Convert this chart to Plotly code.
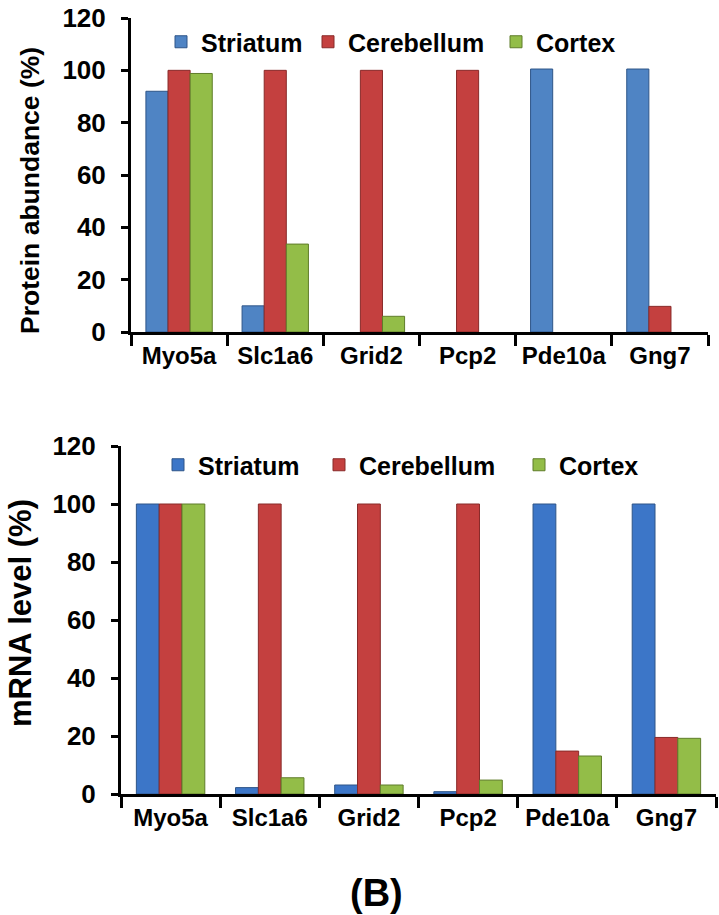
import plotly.graph_objects as go

genes = ["Myo5a", "Slc1a6", "Grid2", "Pcp2", "Pde10a", "Gng7"]
series_names = ["Striatum", "Cerebellum", "Cortex"]

protein_striatum = [92, 10, 0, 0, 100.5, 100.5]
protein_cerebellum = [100, 100, 100, 100, 0, 9.8]
protein_cortex = [98.8, 33.6, 6, 0, 0, 0]

mrna_striatum = [100, 2.2, 3.1, 0.8, 100, 100]
mrna_cerebellum = [100, 100, 100, 100, 14.8, 19.5]
mrna_cortex = [100, 5.6, 3.1, 4.8, 13.1, 19.2]

y_ticks = [0, 20, 40, 60, 80, 100, 120]

top_title = "Protein abundance (%)"
bot_title = "mRNA level (%)"
panel_label = "(B)"

fills_top = ["#4F84C4", "#C4403F", "#93BD48"]
fills_bot = ["#3C76C8", "#C4403F", "#93BD48"]
edges = ["#2E5588", "#882A29", "#5F7D2A"]

FONT = "Liberation Sans, Arial, sans-serif"

W, H = 719, 915

# legend entry left positions (px) for each series, top and bottom panels
top_legend_px = [161, 308, 496]
bot_legend_px = [158, 319, 519]


def nz(vals):
    # zero-height bars are not drawn in the reference
    return [v if v != 0 else None for v in vals]


fig = go.Figure()

top_vals = [protein_striatum, protein_cerebellum, protein_cortex]
bot_vals = [mrna_striatum, mrna_cerebellum, mrna_cortex]

legend_font = dict(family=FONT, size=25, color="black", weight="bold")
legends = {}

for i, name in enumerate(series_names):
    key = "legend" if i == 0 else f"legend{i + 1}"
    fig.add_trace(go.Bar(
        x=genes, y=nz(top_vals[i]), name=name, xaxis="x", yaxis="y",
        marker=dict(color=fills_top[i], line=dict(color=edges[i], width=1)),
        legend=key, showlegend=True,
    ))
    legends[key] = dict(orientation="h", x=top_legend_px[i] / W, y=1 - 42 / H,
                        xanchor="left", yanchor="middle", font=legend_font,
                        bgcolor="rgba(0,0,0,0)")
for i, name in enumerate(series_names):
    key = f"legend{i + 4}"
    fig.add_trace(go.Bar(
        x=genes, y=nz(bot_vals[i]), name=name, xaxis="x2", yaxis="y2",
        marker=dict(color=fills_bot[i], line=dict(color=edges[i], width=1)),
        legend=key, showlegend=True,
    ))
    legends[key] = dict(orientation="h", x=bot_legend_px[i] / W, y=1 - 465 / H,
                        xanchor="left", yanchor="middle", font=legend_font,
                        bgcolor="rgba(0,0,0,0)")


def xdom(a, b):
    return [a / W, b / W]


def ydom(bottom_px, top_px):
    return [1 - bottom_px / H, 1 - top_px / H]


axis_common = dict(
    showline=True, linecolor="black", linewidth=3,
    ticks="outside", tickcolor="black", tickwidth=3,
    showgrid=False, zeroline=False, automargin=False,
)
xtickfont = dict(family=FONT, size=24, color="black", weight="bold")
ytickfont = dict(family=FONT, size=26, color="black", weight="bold")


def paper_text(text, xpx, ypx, size, angle=0):
    return dict(text=text, x=xpx / W, y=1 - ypx / H, xref="paper", yref="paper",
                showarrow=False, xanchor="center", yanchor="middle", textangle=angle,
                font=dict(family=FONT, size=size, color="black", weight="bold"))


fig.update_layout(
    width=W, height=H,
    margin=dict(l=0, r=0, t=0, b=0),
    paper_bgcolor="white", plot_bgcolor="white",
    barmode="group", bargap=0.31, bargroupgap=0,
    font=dict(family=FONT, color="black"),
    xaxis=dict(domain=xdom(131, 708), anchor="y", type="category",
               tickson="boundaries", ticklen=11, tickangle=0, tickfont=xtickfont,
               **axis_common),
    yaxis=dict(domain=ydom(332, 18), anchor="x", range=[0, 120],
               tickvals=y_ticks, ticklen=7, ticklabelstandoff=10, tickfont=ytickfont,
               **axis_common),
    xaxis2=dict(domain=xdom(121, 716), anchor="y2", type="category",
                tickson="boundaries", ticklen=11, tickangle=0, tickfont=xtickfont,
                **axis_common),
    yaxis2=dict(domain=ydom(794, 446), anchor="x2", range=[0, 120],
                tickvals=y_ticks, ticklen=7, ticklabelstandoff=10, tickfont=ytickfont,
                **axis_common),
    annotations=[
        paper_text(top_title, 30, 191, 26.5, -90),
        paper_text(bot_title, 20, 613, 31, -90),
        paper_text(panel_label, 376, 893, 38),
    ],
    **legends,
)

fig.write_html("out.html", config={"displayModeBar": False},
               post_script="document.body.style.margin='0';document.body.style.overflow='hidden';")
